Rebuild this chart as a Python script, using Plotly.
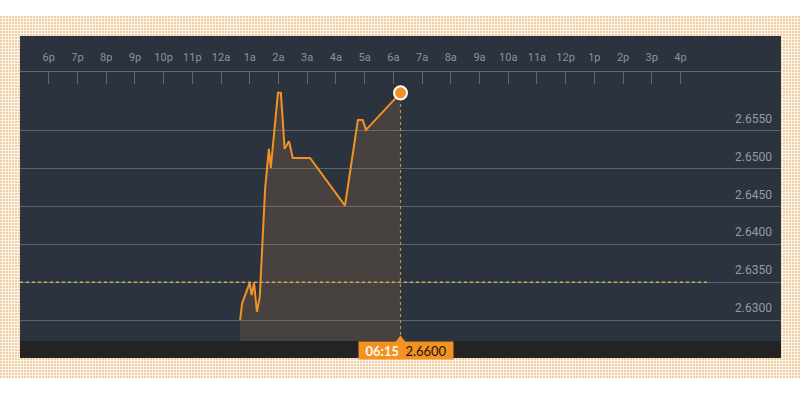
import base64
import plotly.graph_objects as go

# ---------------- data ----------------
times = [
    "2024-01-02 00:40", "2024-01-02 00:44", "2024-01-02 01:00", "2024-01-02 01:04",
    "2024-01-02 01:09", "2024-01-02 01:15", "2024-01-02 01:21", "2024-01-02 01:32",
    "2024-01-02 01:40", "2024-01-02 01:44", "2024-01-02 01:59", "2024-01-02 02:05",
    "2024-01-02 02:13", "2024-01-02 02:22", "2024-01-02 02:30", "2024-01-02 03:06",
    "2024-01-02 04:19", "2024-01-02 04:46", "2024-01-02 04:56", "2024-01-02 05:03",
    "2024-01-02 06:15",
]
prices = [
    2.6300, 2.6322, 2.6349, 2.6333, 2.6349, 2.6311, 2.6331, 2.6472,
    2.6526, 2.6501, 2.6600, 2.6600, 2.6526, 2.6536, 2.6514, 2.6514,
    2.6451, 2.6564, 2.6564, 2.6551, 2.6600,
]
prev_close = 2.6350
prev_close_span = ["2024-01-01 17:00", "2024-01-02 17:00"]

x_range = ["2024-01-01 17:00", "2024-01-02 19:30"]
y_range = [2.62723, 2.66275]

hour_ticks = [f"2024-01-01 {h}:00" for h in range(18, 24)] + \
             [f"2024-01-02 {h:02d}:00" for h in range(0, 17)]
hour_labels = ["6p", "7p", "8p", "9p", "10p", "11p", "12a", "1a", "2a", "3a", "4a",
               "5a", "6a", "7a", "8a", "9a", "10a", "11a", "12p", "1p", "2p", "3p", "4p"]

y_ticks = [2.6300, 2.6350, 2.6400, 2.6450, 2.6500, 2.6550]
y_labels = [f"{v:.4f}" for v in y_ticks]

last_label_time = "06:15"

# ---------------- styles ----------------
ORANGE = "#f39224"
PANEL = "#2b333e"
W, H = 800, 420
L, R, T, B = 20, 19, 72, 79
pw, ph = W - L - R, H - T - B


def px_x(p):
    return (p - L) / pw


def px_y(p):
    return (H - B - p) / ph


# dotted pattern background as an svg image
svg = (
    '<svg xmlns="http://www.w3.org/2000/svg" width="800" height="362" viewBox="0 0 800 362">'
    '<defs><pattern id="d" width="3" height="3" patternUnits="userSpaceOnUse">'
    '<rect width="3" height="3" fill="#fdf5ea"/>'
    '<rect width="2" height="2" fill="#ecd0a8"/></pattern></defs>'
    '<rect width="800" height="362" fill="url(#d)"/></svg>'
)
svg_uri = "data:image/svg+xml;base64," + base64.b64encode(svg.encode()).decode()

fig = go.Figure()

# previous close dotted line
fig.add_trace(go.Scatter(
    x=prev_close_span, y=[prev_close, prev_close], mode="lines",
    line=dict(color="#d4a85a", width=1.5, dash="dot"), hoverinfo="skip"))

# price line with fill
fig.add_trace(go.Scatter(
    x=times, y=prices, mode="lines",
    line=dict(color=ORANGE, width=2),
    fill="tozeroy", fillcolor="rgba(215,140,70,0.16)", hoverinfo="skip"))

# crosshair vertical line
fig.add_trace(go.Scatter(
    x=[times[-1], times[-1]], y=[y_range[0], prices[-1]], mode="lines",
    line=dict(color="#b89540", width=1.2, dash="dot"), hoverinfo="skip"))

# last point marker
fig.add_trace(go.Scatter(
    x=[times[-1]], y=[prices[-1]], mode="markers",
    marker=dict(size=13, color=ORANGE, line=dict(color="white", width=2)),
    hoverinfo="skip", cliponaxis=False))

# pointer triangle
fig.add_trace(go.Scatter(
    x=[times[-1]], y=[y_range[0]], mode="markers",
    marker=dict(symbol="triangle-up", size=11, color=ORANGE, line=dict(width=0)),
    hoverinfo="skip", cliponaxis=False))

fig.update_layout(
    width=W, height=H, showlegend=False,
    margin=dict(l=L, r=R, t=T, b=B, pad=0),
    paper_bgcolor="white", plot_bgcolor="rgba(0,0,0,0)",
    hovermode=False,
    images=[dict(source=svg_uri, xref="paper", yref="paper",
                 x=px_x(0), y=px_y(16), sizex=800 / pw, sizey=362 / ph,
                 xanchor="left", yanchor="top", sizing="stretch", layer="below")],
    shapes=[
        dict(type="rect", xref="paper", yref="paper", x0=0, x1=1,
             y0=px_y(341), y1=px_y(36), fillcolor=PANEL, line=dict(width=0), layer="below"),
        dict(type="rect", xref="paper", yref="paper", x0=0, x1=1,
             y0=px_y(358), y1=px_y(341), fillcolor="#232323", line=dict(width=0), layer="below"),
    ],
    xaxis=dict(
        type="date", range=x_range, side="top",
        tickvals=hour_ticks, ticktext=hour_labels,
        ticks="inside", ticklen=12, tickcolor="#5f6771", tickwidth=1,
        showline=True, linecolor="#5f6771", linewidth=1,
        showgrid=False, zeroline=False, fixedrange=True,
        tickfont=dict(family="Roboto", size=11, color="#8b929b"),
        ticklabelstandoff=6,
    ),
    yaxis=dict(
        range=y_range, side="right",
        tickvals=y_ticks, ticktext=y_labels,
        ticks="", showline=False, zeroline=False,
        showgrid=True, gridcolor="#5c636d", gridwidth=1,
        ticklabelposition="inside", ticklabelshift=-12, ticklabelstandoff=6,
        tickfont=dict(family="Roboto", size=12, color="#959ba3"),
        fixedrange=True,
    ),
    annotations=[
        dict(x=times[-1], y=0, xref="x", yref="paper", xanchor="right", yanchor="top",
             xshift=-1, showarrow=False, width=40, height=17, align="right",
             bgcolor=ORANGE, borderpad=0,
             font=dict(family="Lato", size=13, color="#fff6ea", weight="bold"),
             text=last_label_time),
        dict(x=times[-1], y=0, xref="x", yref="paper", xanchor="left", yanchor="top",
             xshift=-3, showarrow=False, width=54, height=17, align="center",
             bgcolor=ORANGE, borderpad=0,
             font=dict(family="Lato", size=13, color="#1e1205"),
             text=f"{prices[-1]:.4f}"),
    ],
)

fig.write_html(
    "out.html",
    config={"displayModeBar": False, "staticPlot": True},
    post_script="document.body.style.margin='0';document.body.style.overflow='hidden';",
)
